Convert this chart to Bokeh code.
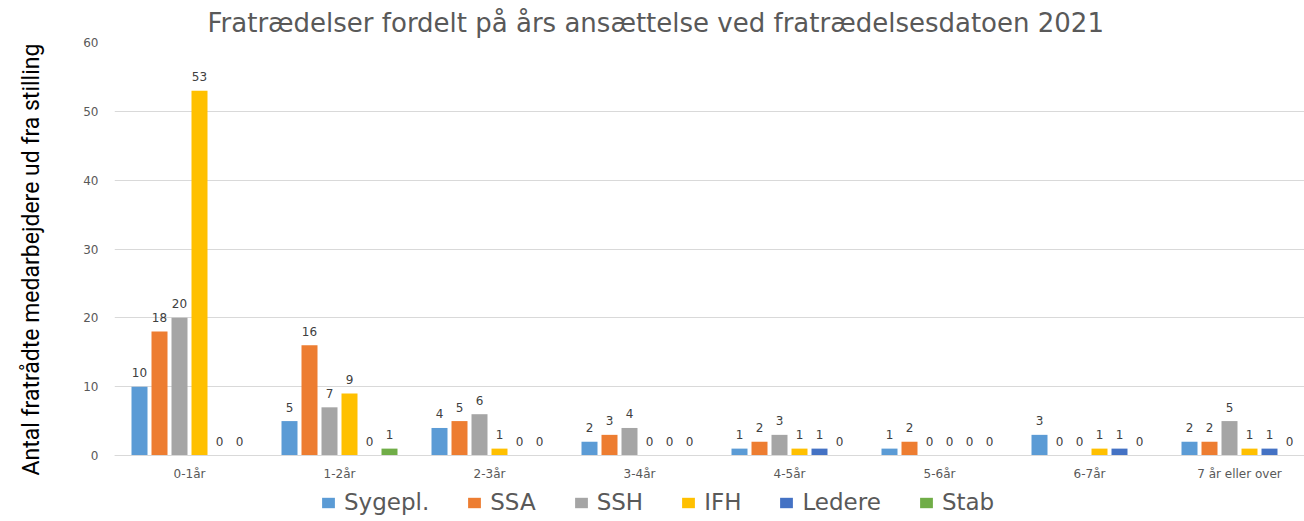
from bokeh.plotting import figure
from bokeh.models import ColumnDataSource, Range1d, FixedTicker, Legend, LegendItem, Title
from bokeh.transform import dodge
from bokeh.embed import file_html
from bokeh.resources import INLINE
from bokeh.core.properties import value

categories = ["0-1år", "1-2år", "2-3år", "3-4år", "4-5år", "5-6år", "6-7år", "7 år eller over"]
series_names = ["Sygepl.", "SSA", "SSH", "IFH", "Ledere", "Stab"]
sygepl = [10, 5, 4, 2, 1, 1, 3, 2]
ssa = [18, 16, 5, 3, 2, 2, 0, 2]
ssh = [20, 7, 6, 4, 3, 0, 0, 5]
ifh = [53, 9, 1, 0, 1, 0, 1, 1]
ledere = [0, 0, 0, 0, 1, 0, 1, 1]
stab = [0, 1, 0, 0, 0, 0, 0, 0]
y_ticks = [0, 10, 20, 30, 40, 50, 60]
title_text = "Fratrædelser fordelt på års ansættelse ved fratrædelsesdatoen 2021"
y_label = "Antal fratrådte medarbejdere ud fra stilling"

colors = ["#5B9BD5", "#ED7D31", "#A5A5A5", "#FFC000", "#4472C4", "#70AD47"]
series_values = [sygepl, ssa, ssh, ifh, ledere, stab]

x_centers = [i + 0.5 for i in range(len(categories))]
data = dict(x=x_centers)
for k, vals in enumerate(series_values):
    data[f"s{k}"] = vals
    data[f"t{k}"] = [str(v) for v in vals]
src = ColumnDataSource(data)

# layout (pixels)
GROUP_PX = 150.0
FRAME_W = 1190
TOP = 42
ZERO_PX = 413            # distance from frame top to value 0
FRAME_H = 479
PPU = ZERO_PX / 60.0
y_start = -(FRAME_H - ZERO_PX) / PPU

p = figure(frame_width=FRAME_W, frame_height=FRAME_H,
           x_range=Range1d(0, FRAME_W / GROUP_PX), y_range=Range1d(y_start, 60),
           output_backend="svg", toolbar_location=None,
           min_border_left=114, min_border_right=0,
           min_border_top=TOP, min_border_bottom=0)
p.outline_line_color = None
p.background_fill_color = "white"
p.border_fill_color = "white"

bar_w = 16 / GROUP_PX
step = 20 / GROUP_PX
items = []
for k, name in enumerate(series_names):
    off = (k - 2.5) * step
    r = p.vbar(x=dodge("x", off, range=p.x_range), top=f"s{k}", width=bar_w,
               bottom=0, source=src, fill_color=colors[k], line_color=None)
    p.text(x=dodge("x", off, range=p.x_range), y=f"s{k}", text=f"t{k}", source=src,
           text_align="center", text_baseline="middle", y_offset=-14,
           text_font=value("DejaVu Sans"), text_font_size="12px", text_color="#404040")
    items.append(LegendItem(label=name, renderers=[r]))

p.title.text = title_text
p.title.align = "left"
p.title.offset = 93
p.title.standoff = 10
p.title.text_font = "DejaVu Sans"
p.title.text_font_size = "26px"
p.title.text_font_style = "normal"
p.title.text_color = "#595959"

p.xgrid.grid_line_color = None
p.ygrid.grid_line_color = "#D9D9D9"
p.ygrid.grid_line_width = 1

p.xaxis.fixed_location = 0
p.xaxis.ticker = FixedTicker(ticks=x_centers)
p.xaxis.major_label_overrides = {x: c for x, c in zip(x_centers, categories)}
p.xaxis.axis_line_color = "#D9D9D9"
p.xaxis.major_tick_line_color = None
p.xaxis.major_tick_out = 0
p.xaxis.minor_tick_line_color = None
p.xaxis.major_label_text_font = "DejaVu Sans"
p.xaxis.major_label_text_font_size = "12px"
p.xaxis.major_label_text_color = "#595959"
p.xaxis.major_label_standoff = 11

p.yaxis.ticker = FixedTicker(ticks=y_ticks)
p.yaxis.axis_line_color = None
p.yaxis.major_tick_line_color = None
p.yaxis.major_tick_out = 0
p.yaxis.minor_tick_line_color = None
p.yaxis.major_label_text_font = "DejaVu Sans"
p.yaxis.major_label_text_font_size = "12px"
p.yaxis.major_label_text_color = "#595959"
p.yaxis.major_label_standoff = 16
# blank axis label only reserves room between tick labels and the rotated title
p.yaxis.axis_label = " "
p.yaxis.axis_label_text_font_size = "10px"
p.yaxis.axis_label_standoff = 17

ytitle = Title(text=y_label, align="left", offset=FRAME_H - ZERO_PX - 20, standoff=10,
               vertical_align="bottom",
               text_font="Roboto", text_font_size="23px", text_font_style="normal",
               text_color="#000000")
p.add_layout(ytitle, "left")

legend = Legend(items=items, orientation="horizontal", location=(206, 6),
                label_text_font="DejaVu Sans", label_text_font_size="23px",
                label_text_color="#595959", glyph_width=16, glyph_height=13,
                label_standoff=8, spacing=37, border_line_color=None,
                background_fill_alpha=0, padding=0, margin=0, label_height=20)
p.add_layout(legend, "center")

open("out.html", "w").write(file_html(p, INLINE))
